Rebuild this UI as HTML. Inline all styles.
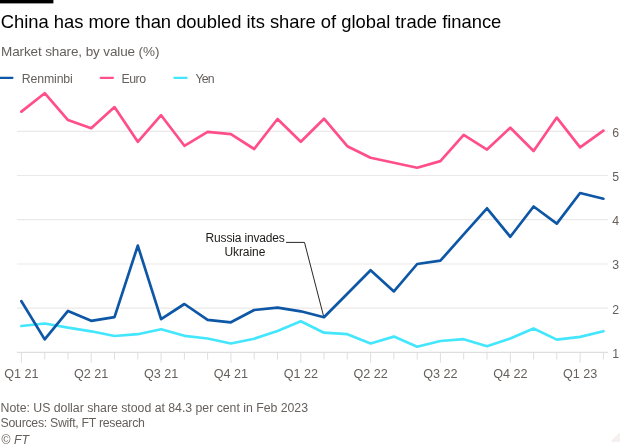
<!DOCTYPE html>
<html><head><meta charset="utf-8"><style>
html,body{margin:0;padding:0;background:#fff;width:624px;height:446px;overflow:hidden}
svg{display:block;will-change:transform;font-family:"Liberation Sans",sans-serif}
.ax{fill:#66605c}
</style></head><body>
<svg width="624" height="446" viewBox="0 0 624 446">
<rect x="0" y="0" width="53.4" height="3.4" fill="#000"/>
<polygon points="611.5,441.3 619.3,433.3 619.3,441.3" fill="#f6f1ee" stroke="#eeeae8" stroke-width="0.6"/>
<line x1="17" x2="608" y1="308.2" y2="308.2" stroke="#ebe9e7" stroke-width="1.2"/>
<line x1="17" x2="608" y1="264.0" y2="264.0" stroke="#ebe9e7" stroke-width="1.2"/>
<line x1="17" x2="608" y1="219.7" y2="219.7" stroke="#ebe9e7" stroke-width="1.2"/>
<line x1="17" x2="608" y1="175.5" y2="175.5" stroke="#ebe9e7" stroke-width="1.2"/>
<line x1="17" x2="608" y1="131.3" y2="131.3" stroke="#ebe9e7" stroke-width="1.2"/>
<line x1="21.4" x2="21.4" y1="352.4" y2="362.7" stroke="#dedede" stroke-width="1"/>
<line x1="44.7" x2="44.7" y1="352.4" y2="359.6" stroke="#dedede" stroke-width="1"/>
<line x1="68.0" x2="68.0" y1="352.4" y2="359.6" stroke="#dedede" stroke-width="1"/>
<line x1="91.2" x2="91.2" y1="352.4" y2="362.7" stroke="#dedede" stroke-width="1"/>
<line x1="114.5" x2="114.5" y1="352.4" y2="359.6" stroke="#dedede" stroke-width="1"/>
<line x1="137.8" x2="137.8" y1="352.4" y2="359.6" stroke="#dedede" stroke-width="1"/>
<line x1="161.1" x2="161.1" y1="352.4" y2="362.7" stroke="#dedede" stroke-width="1"/>
<line x1="184.4" x2="184.4" y1="352.4" y2="359.6" stroke="#dedede" stroke-width="1"/>
<line x1="207.6" x2="207.6" y1="352.4" y2="359.6" stroke="#dedede" stroke-width="1"/>
<line x1="230.9" x2="230.9" y1="352.4" y2="362.7" stroke="#dedede" stroke-width="1"/>
<line x1="254.2" x2="254.2" y1="352.4" y2="359.6" stroke="#dedede" stroke-width="1"/>
<line x1="277.5" x2="277.5" y1="352.4" y2="359.6" stroke="#dedede" stroke-width="1"/>
<line x1="300.8" x2="300.8" y1="352.4" y2="362.7" stroke="#dedede" stroke-width="1"/>
<line x1="324.0" x2="324.0" y1="352.4" y2="359.6" stroke="#dedede" stroke-width="1"/>
<line x1="347.3" x2="347.3" y1="352.4" y2="359.6" stroke="#dedede" stroke-width="1"/>
<line x1="370.6" x2="370.6" y1="352.4" y2="362.7" stroke="#dedede" stroke-width="1"/>
<line x1="393.9" x2="393.9" y1="352.4" y2="359.6" stroke="#dedede" stroke-width="1"/>
<line x1="417.2" x2="417.2" y1="352.4" y2="359.6" stroke="#dedede" stroke-width="1"/>
<line x1="440.4" x2="440.4" y1="352.4" y2="362.7" stroke="#dedede" stroke-width="1"/>
<line x1="463.7" x2="463.7" y1="352.4" y2="359.6" stroke="#dedede" stroke-width="1"/>
<line x1="487.0" x2="487.0" y1="352.4" y2="359.6" stroke="#dedede" stroke-width="1"/>
<line x1="510.3" x2="510.3" y1="352.4" y2="362.7" stroke="#dedede" stroke-width="1"/>
<line x1="533.6" x2="533.6" y1="352.4" y2="359.6" stroke="#dedede" stroke-width="1"/>
<line x1="556.8" x2="556.8" y1="352.4" y2="359.6" stroke="#dedede" stroke-width="1"/>
<line x1="580.1" x2="580.1" y1="352.4" y2="362.7" stroke="#dedede" stroke-width="1"/>
<line x1="603.4" x2="603.4" y1="352.4" y2="359.6" stroke="#dedede" stroke-width="1"/>
<line x1="17" x2="608" y1="352.4" y2="352.4" stroke="#dedede" stroke-width="1.3"/>
<text x="612.2" y="357.8" class="ax" font-size="12.3">1</text>
<text x="612.2" y="313.6" class="ax" font-size="12.3">2</text>
<text x="612.2" y="269.4" class="ax" font-size="12.3">3</text>
<text x="612.2" y="225.1" class="ax" font-size="12.3">4</text>
<text x="612.2" y="180.9" class="ax" font-size="12.3">5</text>
<text x="612.2" y="136.7" class="ax" font-size="12.3">6</text>
<text x="21.4" y="377.7" class="ax" font-size="12.6" text-anchor="middle">Q1 21</text>
<text x="91.2" y="377.7" class="ax" font-size="12.6" text-anchor="middle">Q2 21</text>
<text x="161.1" y="377.7" class="ax" font-size="12.6" text-anchor="middle">Q3 21</text>
<text x="230.9" y="377.7" class="ax" font-size="12.6" text-anchor="middle">Q4 21</text>
<text x="300.8" y="377.7" class="ax" font-size="12.6" text-anchor="middle">Q1 22</text>
<text x="370.6" y="377.7" class="ax" font-size="12.6" text-anchor="middle">Q2 22</text>
<text x="440.4" y="377.7" class="ax" font-size="12.6" text-anchor="middle">Q3 22</text>
<text x="510.3" y="377.7" class="ax" font-size="12.6" text-anchor="middle">Q4 22</text>
<text x="580.1" y="377.7" class="ax" font-size="12.6" text-anchor="middle">Q1 23</text>
<polyline points="286,242.4 304.5,242.4 323.8,317" fill="none" stroke="#2a2725" stroke-width="1"/>
<text x="205.60" y="241.7" font-size="12" fill="#1f1c1a" textLength="79.22" lengthAdjust="spacing">Russia invades</text>
<text x="224.40" y="255.6" font-size="12" fill="#1f1c1a" textLength="41.01" lengthAdjust="spacing">Ukraine</text>
<polyline points="21.4,326.0 44.7,323.5 68.0,327.7 91.2,331.3 114.5,336.0 137.8,334.2 161.1,329.2 184.4,335.8 207.6,338.5 230.9,343.5 254.2,338.7 277.5,331.0 300.8,321.2 324.0,332.7 347.3,334.2 370.6,343.5 393.9,336.6 417.2,346.7 440.4,341.0 463.7,339.2 487.0,346.2 510.3,338.5 533.6,328.5 556.8,339.6 580.1,336.9 603.4,331.2" fill="none" stroke="#44e6fd" stroke-width="2.7" stroke-linejoin="round" stroke-linecap="round"/>
<polyline points="21.4,111.6 44.7,93.2 68.0,120.1 91.2,128.3 114.5,107.1 137.8,141.8 161.1,115.2 184.4,145.8 207.6,131.8 230.9,134.1 254.2,149.0 277.5,119.0 300.8,141.8 324.0,118.7 347.3,146.2 370.6,157.7 393.9,162.8 417.2,167.7 440.4,161.1 463.7,134.9 487.0,149.6 510.3,127.7 533.6,151.0 556.8,117.6 580.1,147.3 603.4,130.6" fill="none" stroke="#ff4f8b" stroke-width="2.7" stroke-linejoin="round" stroke-linecap="round"/>
<polyline points="21.4,301.2 44.7,339.4 68.0,310.9 91.2,320.8 114.5,317.2 137.8,245.6 161.1,319.2 184.4,304.0 207.6,319.8 230.9,322.3 254.2,310.0 277.5,307.7 300.8,311.3 324.0,317.2 347.3,293.7 370.6,270.2 393.9,291.4 417.2,264.0 440.4,260.7 463.7,234.4 487.0,208.3 510.3,236.8 533.6,206.5 556.8,223.6 580.1,193.0 603.4,198.7" fill="none" stroke="#0d57a6" stroke-width="2.7" stroke-linejoin="round" stroke-linecap="round"/>
<line x1="0.3" x2="12.5" y1="77.8" y2="77.8" stroke="#0d57a6" stroke-width="2.2" stroke-linecap="round"/>
<text x="21.80" y="83.1" font-size="12.3" fill="#66605c" textLength="50.99" lengthAdjust="spacing">Renminbi</text>
<line x1="100.7" x2="112.9" y1="77.8" y2="77.8" stroke="#ff4f8b" stroke-width="2.2" stroke-linecap="round"/>
<text x="121.40" y="83.1" font-size="12.3" fill="#66605c" textLength="24.73" lengthAdjust="spacing">Euro</text>
<line x1="174.4" x2="186.6" y1="77.8" y2="77.8" stroke="#44e6fd" stroke-width="2.2" stroke-linecap="round"/>
<text x="195.50" y="83.1" font-size="12.3" fill="#66605c" textLength="19.17" lengthAdjust="spacing">Yen</text>
<text x="0.80" y="27.9" font-size="18.4" fill="#000" textLength="500.52" lengthAdjust="spacing">China has more than doubled its share of global trade finance</text>
<text x="1.00" y="55.6" font-size="13.5" fill="#66605c" textLength="158.39" lengthAdjust="spacing">Market share, by value (%)</text>
<text x="0.60" y="411.7" font-size="12.3" fill="#66605c" textLength="307.42" lengthAdjust="spacing">Note: US dollar share stood at 84.3 per cent in Feb 2023</text>
<text x="0.60" y="427" font-size="12.3" fill="#66605c" textLength="144.29" lengthAdjust="spacing">Sources: Swift, FT research</text>
<text x="1.30" y="443.7" font-size="12.3" fill="#66605c" textLength="27.68" lengthAdjust="spacing" font-style="italic">© FT</text>
</svg>
</body></html>
